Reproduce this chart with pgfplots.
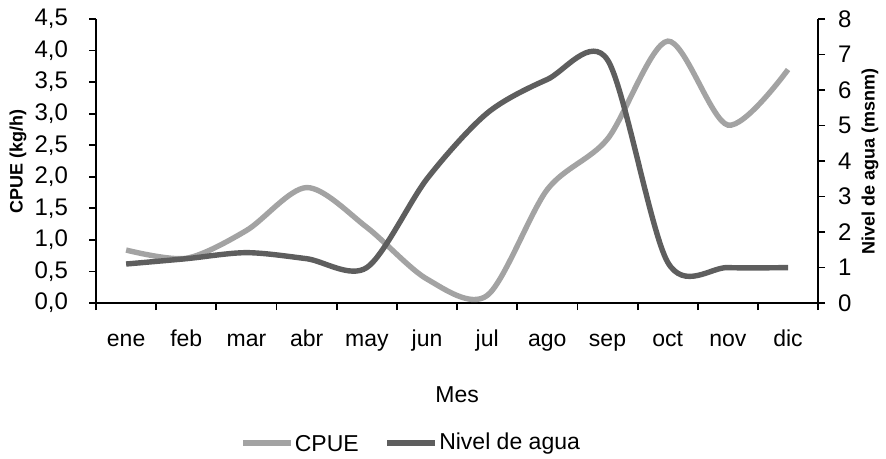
\documentclass[border=0pt]{standalone}
\usepackage{pgfplots}
\pgfplotsset{compat=1.18}
\usepackage{fontspec}
\setmainfont{Liberation Sans}
\definecolor{cpue}{HTML}{A3A3A3}
\definecolor{nivel}{HTML}{5E5E5E}
\begin{document}
\begin{tikzpicture}
\pgfplotsset{
  every axis/.style={
    scale only axis, width=361pt, height=142pt,
    xmin=0.5, xmax=12.5,
    tick align=outside,
    axis line style={line width=0.9pt},
    tick style={line width=0.9pt, black},
    major tick length=3.5pt, minor tick length=3.5pt,
    /pgf/number format/assume math mode=true,
    tick label style={font=\fontsize{12}{13}\selectfont},
  }
}
\begin{axis}[
  axis y line*=left, axis x line*=bottom,
  ymin=0, ymax=4.5, ytick={0,0.5,...,4.5},
  yticklabel style={xshift=-7pt, /pgf/number format/.cd, fixed, fixed zerofill, precision=1, use comma},
  xtick={1,...,12}, major x tick style={draw=none},
  xticklabels={ene,feb,mar,abr,may,jun,jul,ago,sep,oct,nov,dic},
  xticklabel style={font=\fontsize{11.5}{13}\selectfont, text height=1.6ex, text depth=0.3ex, yshift=-6pt},
  minor xtick={0.5,1.5,...,12.5},
  ylabel={\bfseries CPUE (kg/h)}, ylabel style={font=\fontsize{9}{10}\selectfont, at={(rel axis cs:-0.108,0.5)}, anchor=center},
  xlabel={Mes}, xlabel style={font=\fontsize{11.5}{13}\selectfont, yshift=-12pt},
  clip=false,
]
\addplot[cpue, line width=2.7pt, smooth] coordinates {
(1,0.84) (2,0.71) (3,1.15) (4,1.83) (5,1.20) (6,0.38) (7,0.12) (8,1.80) (9,2.60) (10,4.15) (11,2.82) (12,3.70)};
\path (rel axis cs:-0.133,-0.546) rectangle (rel axis cs:1.094,1.067);
\draw[cpue, line width=2.7pt] (rel axis cs:0.204,-0.493) -- (rel axis cs:0.27,-0.493);
\node[anchor=west, font=\fontsize{11.5}{13}\selectfont, inner sep=1pt] at (rel axis cs:0.272,-0.493) {CPUE};
\draw[nivel, line width=2.7pt] (rel axis cs:0.403,-0.493) -- (rel axis cs:0.47,-0.493);
\node[anchor=west, font=\fontsize{11.5}{13}\selectfont, inner sep=1pt] at (rel axis cs:0.472,-0.493) {Nivel de agua};
\end{axis}
\begin{axis}[
  axis y line*=right, axis x line=none,
  ymin=0, ymax=8, ytick={0,1,...,8},
  yticklabel style={xshift=3pt},
  ylabel={\bfseries Nivel de agua (msnm)}, ylabel style={font=\fontsize{9}{10}\selectfont, at={(rel axis cs:1.072,0.5)}, anchor=center},
]
\addplot[nivel, line width=2.7pt, smooth] coordinates {
(1,1.1) (2,1.25) (3,1.42) (4,1.25) (5,1.0) (6,3.5) (7,5.35) (8,6.3) (9,6.85) (10,1.15) (11,1.0) (12,1.0)};
\end{axis}
\end{tikzpicture}
\end{document}
